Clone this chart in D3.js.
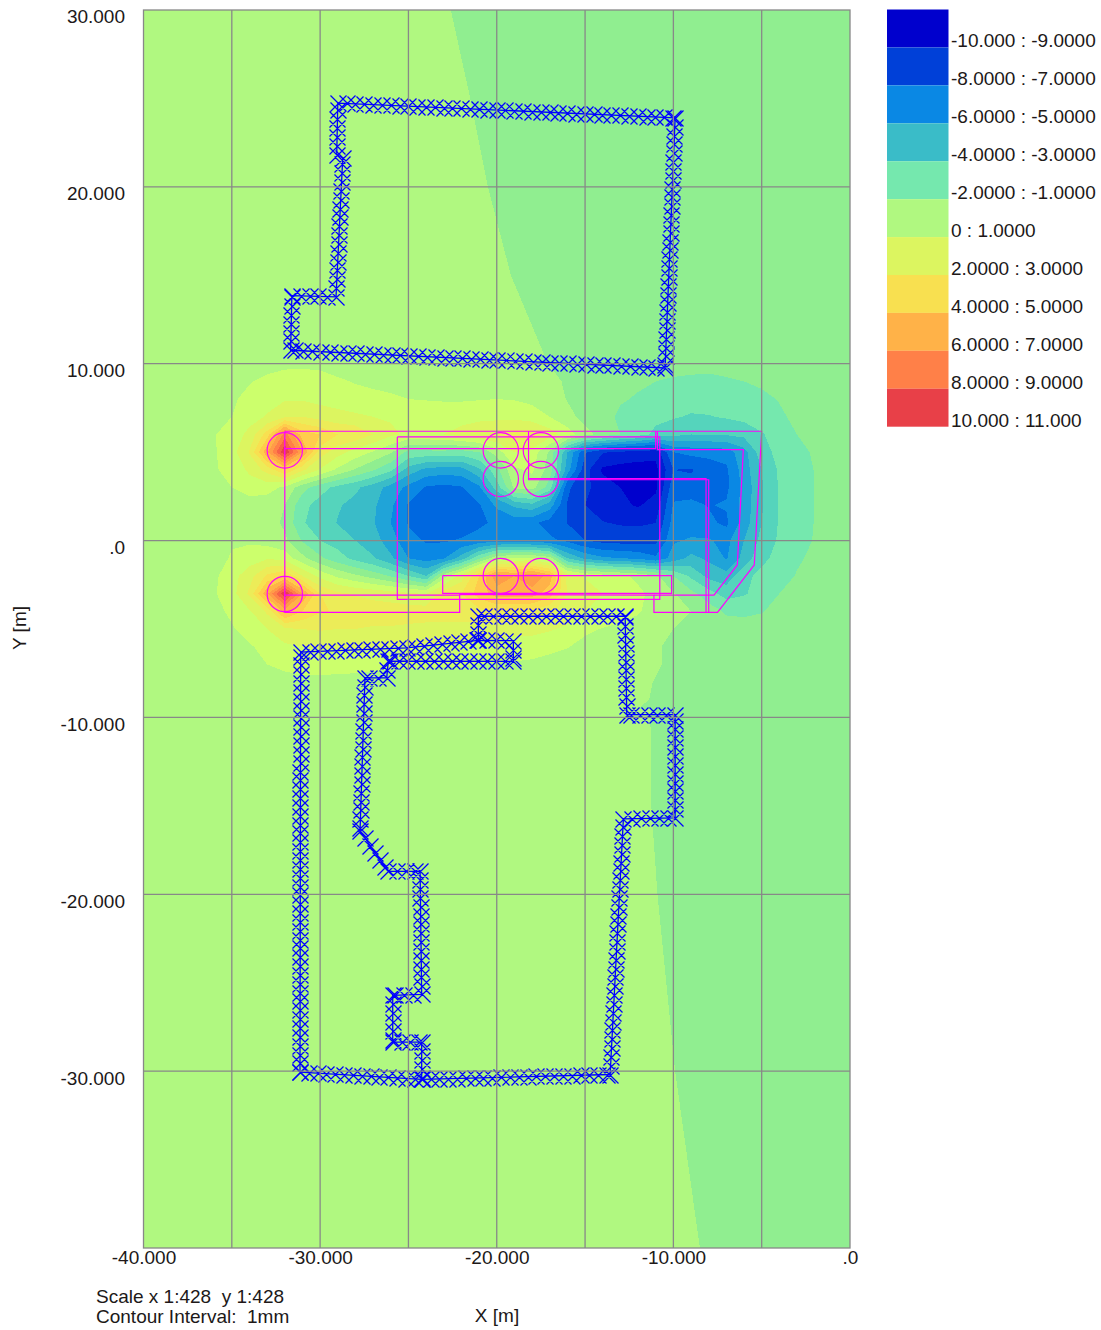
<!DOCTYPE html>
<html>
<head>
<meta charset="utf-8">
<script src="https://cdn.jsdelivr.net/npm/d3@7"></script>
<style>
body { margin: 0; background: #fff; }
text { font-family: "Liberation Sans", Arial, sans-serif; font-size: 19px; fill: #201818; }
</style>
</head>
<body>
<script>
// contour bands, lower limit in mm and colour of each
var band_limits = [-10,-9,-8,-7,-6,-5,-4,-3,-2,-1,0,1,2,3,4,5,6,7,8,9,10]
var band_colors = ['#0000cd','#0020d4','#0040d8','#0068e0','#0a88e4','#20a4d8','#3abcc8','#55d4bc','#75e8ae','#90ee90','#b0f880',
	'#ccff6c','#dcf560','#ecec58','#f8e050','#ffcc4c','#ffb248','#ff9c48','#ff8048','#f66048','#e84048']

var legend_labels = ['-10.000 : -9.0000','-8.0000 : -7.0000','-6.0000 : -5.0000','-4.0000 : -3.0000','-2.0000 : -1.0000','0 : 1.0000',
	'2.0000 : 3.0000','4.0000 : 5.0000','6.0000 : 7.0000','8.0000 : 9.0000','10.000 : 11.000']
var legend_colors = ['#0000cd','#0040d8','#0a88e4','#3abcc8','#75e8ae','#b0f880','#dcf560','#f8e050','#ffb248','#ff8048','#e84048']

var x_label_ticks = [-40,-30,-20,-10,0]
var x_tick_text = ['-40.000','-30.000','-20.000','-10.000','.0']
var y_label_ticks = [30,20,10,0,-10,-20,-30]
var y_tick_text = ['30.000','20.000','10.000','.0','-10.000','-20.000','-30.000']
var x_grid = [-35,-30,-25,-20,-15,-10,-5]
var y_grid = [20,10,0,-10,-20,-30]

// far field settlement, 5 m grid, x -40..0, y 30..-40
var far_x0 = -40, far_y0 = 30, far_step = 5
var far_field = [
	[.5,.5,.5,.24,-.26,-.5,-.5,-.5,-.5],
	[.5,.5,.5,.35,-.15,-.5,-.5,-.5,-.5],
	[.5,.5,.5,.45,-.05,-.5,-.5,-.5,-.5],
	[.5,.5,.5,.5,.08,-.42,-.5,-.5,-.5],
	[.5,.5,.5,.5,.29,-.21,-.5,-.5,-.5],
	[.5,.5,.5,.5,.5,-.3,-.5,-.5,-.5],
	[.5,.5,.5,.5,.5,.3,-.3,-.5,-.5],
	[.5,.5,.5,.5,.5,.45,-.05,-.5,-.5],
	[.5,.5,.5,.5,.5,.37,-.13,-.5,-.5],
	[.5,.5,.5,.5,.5,.375,-.125,-.5,-.5],
	[.5,.5,.5,.5,.5,.41,-.09,-.5,-.5],
	[.5,.5,.5,.5,.5,.46,-.04,-.5,-.5],
	[.5,.5,.5,.5,.5,.5,.01,-.49,-.5],
	[.5,.5,.5,.5,.5,.5,.08,-.42,-.5],
	[.5,.5,.5,.5,.5,.5,.15,-.35,-.5]
]

// settlement under the raft, 1 m grid, x -37..-2, y 10..-9
var raft_x0 = -37, raft_y0 = 10, raft_step = 1
var raft_field = [
	[.4,.45,.5,.6,.7,.8,.8,.75,.7,.65,.6,.6,.55,.55,.55,.55,.5,.5,.4,.2,-.02,-.15,-.3,-.4,-.5,-.6,-.65,-.7,-.75,-.75,-.7,-.65,-.6,-.5,-.45,-.4],
	[.45,.55,.7,.95,1.2,1.4,1.5,1.4,1.1,.95,.85,.8,.75,.7,.7,.7,.7,.7,.6,.4,.2,-.1,-.3,-.5,-.7,-.85,-1,-1.1,-1.15,-1.2,-1.1,-1,-.85,-.7,-.6,-.5],
	[.5,.6,.9,1.2,1.6,1.9,1.9,1.7,1.5,1.3,1.2,1.1,1,.95,.9,.9,.95,1,.95,.8,.5,-.05,-.2,-.6,-.9,-1.1,-1.3,-1.5,-1.6,-1.6,-1.6,-1.4,-1.2,-.95,-.8,-.6],
	[.6,.8,1,1.6,2.1,2.9,3,2.6,2.4,2.2,2,1.9,1.7,1.6,1.6,1.6,1.7,1.7,1.7,1.4,1,.3,-.3,-.6,-1.2,-1.3,-1.7,-1.9,-2.1,-2.05,-1.9,-1.7,-1.4,-1.15,-.8,-.7],
	[.65,.95,1.4,2.3,4.5,8.5,5.5,5,4,3.8,3,2.2,1.8,1.9,2,2.4,2.8,3.2,3.5,3.6,2.5,1.5,.3,-.3,-1,-1.5,-2.3,-2.7,-3,-2.9,-2.9,-2.7,-2.1,-1.5,-1,-.85],
	[.7,.9,1.6,3.1,6.8,11,7,3.5,2.4,1.6,.9,.1,-1.3,-1.3,-1.3,-1.4,-1,.5,2,1.6,-.2,-4,-6.9,-7.9,-8.2,-8.4,-8.7,-6,-5.7,-5.7,-5.5,-4.4,-2.4,-1.7,-1.25,-.9],
	[.7,.9,1.3,2.2,3.4,5,3.2,1.9,.8,-.1,-.9,-1.8,-3.4,-4.3,-4.5,-4.4,-3.2,-1.3,.8,1.2,-.5,-4.5,-7.6,-9.2,-9.4,-9.5,-9.3,-7,-7.1,-6.5,-6.2,-4.5,-3,-1.85,-1.3,-.98],
	[.6,.8,1,1.5,1.4,.8,-.6,-1.6,-2.3,-2.8,-3.5,-4.4,-5.3,-6.1,-6.3,-6.1,-5.2,-2.5,.2,.4,-1.5,-6.8,-7.8,-8.4,-9,-9.4,-9.2,-6.4,-6.6,-6.5,-6.2,-4.7,-3.1,-1.9,-1.35,-.98],
	[.5,.5,.5,.5,.4,0,-1.7,-2.4,-2.9,-3.3,-3.8,-4.8,-6.1,-6.5,-6.6,-6.5,-6.1,-4.8,-3.8,-3.3,-4.5,-7.05,-8,-8.4,-8.8,-9.1,-8.6,-5.9,-5.7,-6.05,-5.9,-4.6,-3.1,-1.9,-1.3,-.98],
	[.5,.5,.5,.5,.5,-.2,-1.9,-2.5,-3.05,-3.5,-3.9,-5,-6.1,-6.6,-6.6,-6.5,-6.2,-5.8,-5.6,-5.8,-6.4,-7.03,-7.6,-7.95,-8.1,-8.15,-8,-5.6,-5.4,-5.8,-6.2,-4.5,-3,-1.9,-1.3,-.98],
	[.5,.6,.9,.85,.6,.2,-1.1,-2,-2.4,-3,-3.5,-4.6,-5.6,-6.1,-6.1,-5.9,-5.6,-5.4,-5.4,-5.5,-5.8,-6.2,-7,-7.3,-7.4,-7.4,-7.3,-5.1,-4.9,-4.9,-5.3,-4,-2.7,-1.85,-1.3,-.95],
	[.5,.6,1.1,1.5,1.9,1.6,.3,-.8,-1.6,-2.3,-2.9,-3.8,-5,-5.4,-5.1,-3.5,-1.2,.8,1.2,1.2,.5,-3,-4.2,-4.8,-5,-5.2,-5.8,-4.6,-3.7,-4.2,-5.1,-3.6,-2.3,-1.6,-1.1,-.85],
	[.6,.8,1.6,2.6,4.2,5,3,1.7,.8,.2,-.4,-1.1,-2,-3,.5,2.5,5,7.7,7,7.9,6.5,2.6,1.9,1.5,1.2,.8,.2,-1,-2.2,-3.3,-3.6,-2.3,-1.7,-1.3,-.95,-.75],
	[.6,.9,1.6,3.2,6.8,11,7,4,3.2,2.9,2.7,2.5,2.2,1.9,3.5,4,5.5,6.5,6.5,6.5,5.5,3,2.5,2,1.6,1.2,.7,.1,-.7,-1.6,-2.4,-2.1,-1.6,-1,-.85,-.7],
	[.55,.7,1.2,1.9,3.2,6.5,5,4.1,3.9,3.7,3.5,3.5,3.5,3.5,3.5,3.5,3.7,4,4,3.8,3.2,2.6,2,1.7,1.4,1.1,.6,.2,0,-.5,-1.15,-1.2,-1.05,-.75,-.6,-.5],
	[.5,.6,.9,1.4,2,2.8,3,3.1,3,3,2.9,2.9,2.8,2.7,2.7,2.7,2.6,2.5,2.3,2.3,2.1,1.8,1.2,.95,.8,.6,.3,0,-.2,-.4,-.5,-.6,-.6,-.5,-.4,-.4],
	[.4,.5,.6,.9,1.3,1.8,2,2.1,2.1,2.1,2.1,2,1.9,1.9,1.9,1.8,1.7,1.6,1.5,1.5,1.3,1.05,.7,.6,.5,.3,.05,-.1,-.3,-.35,-.4,-.4,-.4,-.35,-.3,-.3],
	[.4,.4,.5,.7,1,1.2,1.3,1.3,1.25,1.2,1.15,1.1,1.1,1.1,1.05,1.05,1,.95,.9,.8,.6,.5,.4,.35,.25,.15,.05,-.1,-.2,-.3,-.35,-.35,-.35,-.3,-.3,-.3],
	[.3,.35,.4,.5,.6,.7,.8,.8,.8,.8,.75,.75,.75,.7,.7,.7,.65,.6,.55,.5,.45,.4,.35,.3,.2,.1,-.02,-.1,-.2,-.3,-.3,-.3,-.3,-.3,-.3,-.3],
	[.3,.3,.35,.4,.45,.5,.55,.55,.55,.55,.5,.5,.5,.5,.5,.5,.45,.45,.4,.4,.35,.3,.25,.2,.15,.05,-.03,-.1,-.2,-.3,-.3,-.3,-.3,-.3,-.3,-.3]
]

// wall lines, [x, y] in m
var wall_north = [[-29,24.74],[-9.9,23.9],[-10.47,9.76],[-31.67,10.76],[-31.6,13.85],[-29.1,13.78],[-28.72,21.63],[-29.06,21.82],[-29,24.74]]
var wall_south_a = [[-31.14,-30.06],[-31.1,-6.31],[-25.1,-6.07],[-21.04,-5.64],[-19.06,-5.66],[-19.06,-6.83],[-26.14,-6.82],[-26.23,-7.76],[-27.46,-7.76],[-27.74,-16.43],
	[-26.14,-18.7],[-24.34,-18.7],[-24.25,-25.66],[-25.89,-25.72],[-25.89,-28.36],[-24.25,-28.36],[-24.25,-30.47]]
var wall_south_b = [[-31.14,-30.06],[-24.25,-30.47],[-13.58,-30.19],[-12.83,-15.73],[-9.9,-15.68],[-9.9,-9.84],[-12.64,-9.84],[-12.73,-4.28],[-21.04,-4.28],[-21.04,-5.64]]
var wall_lines = [wall_north, wall_south_a, wall_south_b]

// raft outlines, [x, y] in m
var raft_outline = [[-32,6.18],[-5,6.18],[-5.42,-1.38],[-7.5,-4.06],[-11.1,-4.06],[-11.1,-3.08],[-22.1,-3.05],[-22.1,-4.06],[-32,-4.06],[-32,6.18]]
var raft_inner_a = [[-32,5.2],[-11,5.2],[-11,6.18]]
var raft_inner_b = [[-10.9,6.18],[-10.9,5.14],[-6.04,5.14],[-6.38,-1.38],[-7.7,-3.08],[-11.1,-3.08]]
var raft_inner_c = [[-32,-3.08],[-22.1,-3.08]]
var rect_a = [[-25.63,5.86],[-10.77,5.86],[-10.77,-3.33],[-25.63,-3.33],[-25.63,5.86]]
var rect_b = [[-23.06,-1.98],[-10.1,-1.98],[-10.1,-2.99],[-23.06,-2.99],[-23.06,-1.98]]
var core_a = [[-18.2,6.18],[-18.2,3.44],[-8,3.44],[-8,-4.06]]
var core_b = [[-18.2,3.5],[-8.15,3.5],[-8.15,-4.06]]
var raft_lines = [raft_outline, raft_inner_a, raft_inner_b, raft_inner_c, rect_a, rect_b, core_a, core_b]

var pile_x = [-32,-32,-19.77,-19.77,-19.77,-17.5,-17.5,-17.5]
var pile_y = [5.1,-3.02,5.1,3.48,-2,5.1,3.48,-2]
var pile_radius = 1

var cross_step = 0.5

var x_scale = d3.scaleLinear().domain([-40,0]).range([143.5,850])
var y_scale = d3.scaleLinear().domain([30,-40]).range([10,1248])

var svg = d3.select('body').append('svg').attr('width',1101).attr('height',1330).style('display','block')

svg.append('clipPath').attr('id','plot_clip').append('rect')
	.attr('x',x_scale(-40)).attr('y',y_scale(30))
	.attr('width',x_scale(0)-x_scale(-40)).attr('height',y_scale(-40)-y_scale(30))

var plot = svg.append('g').attr('clip-path','url(#plot_clip)')

// d3.contours puts sample i at i+0.5
function draw_field(field, x0, y0, step, limits, colors) {
	var n = field[0].length, m = field.length
	var to_plot = d3.geoTransform({
		point: function(cx, cy) {
			this.stream.point(x_scale(x0+(cx-0.5)*step), y_scale(y0-(cy-0.5)*step))
		}
	})
	var path = d3.geoPath(to_plot)
	var contours = d3.contours().size([n,m]).thresholds(limits)(field.flat())
	plot.append('g').attr('shape-rendering','crispEdges')
		.selectAll('path').data(contours).enter().append('path')
		.attr('d',path)
		.attr('fill',(d,i) => colors[i])
}

draw_field(far_field, far_x0, far_y0, far_step, [-1,0], ['#90ee90','#b0f880'])
draw_field(raft_field, raft_x0, raft_y0, raft_step, band_limits, band_colors)

// wall lines with the x markers
var line_gen = d3.line().x(d => x_scale(d[0])).y(d => y_scale(d[1]))

// centres snapped to the pixel so the crosses stay regular
function cross_path(px, py, r) {
	px = Math.round(px)+0.5
	py = Math.round(py)+0.5
	return 'M'+(px-r)+','+(py-r)+'L'+(px+r)+','+(py+r)+'M'+(px-r)+','+(py+r)+'L'+(px+r)+','+(py-r)
}

var walls = plot.append('g').attr('fill','none').attr('stroke','#0000ff')
wall_lines.forEach(wall => {
	walls.append('path').attr('d',line_gen(wall)).attr('stroke-width',1.3)
	var crosses = ''
	for (var i = 0; i < wall.length-1; i++) {
		var a = wall[i], b = wall[i+1]
		var len = Math.hypot(b[0]-a[0], b[1]-a[1])
		d3.range(0, len, cross_step).forEach(s => {
			crosses += cross_path(x_scale(a[0]+(b[0]-a[0])*s/len), y_scale(a[1]+(b[1]-a[1])*s/len), 8)
		})
	}
	var last = wall[wall.length-1]
	crosses += cross_path(x_scale(last[0]), y_scale(last[1]), 8)
	walls.append('path').attr('d',crosses).attr('stroke-width',1.2)
})

// raft and piles
var raft = plot.append('g').attr('fill','none').attr('stroke','#ff00ff').attr('stroke-width',1.2)
raft_lines.forEach(l => {
	raft.append('path').attr('d',line_gen(l))
})
pile_x.forEach((px,i) => {
	raft.append('circle')
		.attr('cx',x_scale(px)).attr('cy',y_scale(pile_y[i]))
		.attr('r',x_scale(pile_radius)-x_scale(0))
})

// grid and frame
var grid = svg.append('g').attr('stroke','#888888').attr('stroke-width',1.3)
x_grid.forEach(v => {
	grid.append('line').attr('x1',x_scale(v)).attr('x2',x_scale(v)).attr('y1',y_scale(30)).attr('y2',y_scale(-40))
})
y_grid.forEach(v => {
	grid.append('line').attr('x1',x_scale(-40)).attr('x2',x_scale(0)).attr('y1',y_scale(v)).attr('y2',y_scale(v))
})
grid.append('rect').attr('fill','none')
	.attr('x',x_scale(-40)).attr('y',y_scale(30))
	.attr('width',x_scale(0)-x_scale(-40)).attr('height',y_scale(-40)-y_scale(30))

// axes, only the labels are kept
var x_axis = svg.append('g').attr('transform','translate(0,'+(y_scale(-40)-1)+')')
	.call(d3.axisBottom(x_scale).tickValues(x_label_ticks).tickSize(0).tickPadding(0).tickFormat((d,i) => x_tick_text[i]))
x_axis.select('.domain').remove()
x_axis.selectAll('text').attr('dy','.9em')

var y_axis = svg.append('g').attr('transform','translate(125,0)')
	.call(d3.axisLeft(y_scale).tickValues(y_label_ticks).tickSize(0).tickPadding(0).tickFormat((d,i) => y_tick_text[i]))
y_axis.select('.domain').remove()
y_axis.selectAll('text').attr('dy','.68em')

svg.selectAll('.tick text').style('font-family','"Liberation Sans", Arial, sans-serif').style('font-size','19px')

svg.append('text').attr('x',497).attr('y',1322).attr('text-anchor','middle').text('X [m]')
svg.append('text').attr('transform','translate(26,628) rotate(-90)').attr('text-anchor','middle').text('Y [m]')
svg.append('text').attr('x',96).attr('y',1303).text('Scale x 1:428  y 1:428').style('white-space','pre')
svg.append('text').attr('x',96).attr('y',1323).text('Contour Interval:  1mm').style('white-space','pre')

// legend
var legend_scale = d3.scaleBand().domain(d3.range(legend_labels.length)).range([9.5,426.7])
var legend = svg.append('g')
legend.selectAll('rect').data(legend_colors).enter().append('rect')
	.attr('x',887).attr('width',61.5)
	.attr('y',(d,i) => legend_scale(i)).attr('height',legend_scale.bandwidth())
	.attr('fill',d => d)
legend.selectAll('text').data(legend_labels).enter().append('text')
	.attr('x',951)
	.attr('y',(d,i) => legend_scale(i)+37.8)
	.text(d => d)
</script>
</body>
</html>
